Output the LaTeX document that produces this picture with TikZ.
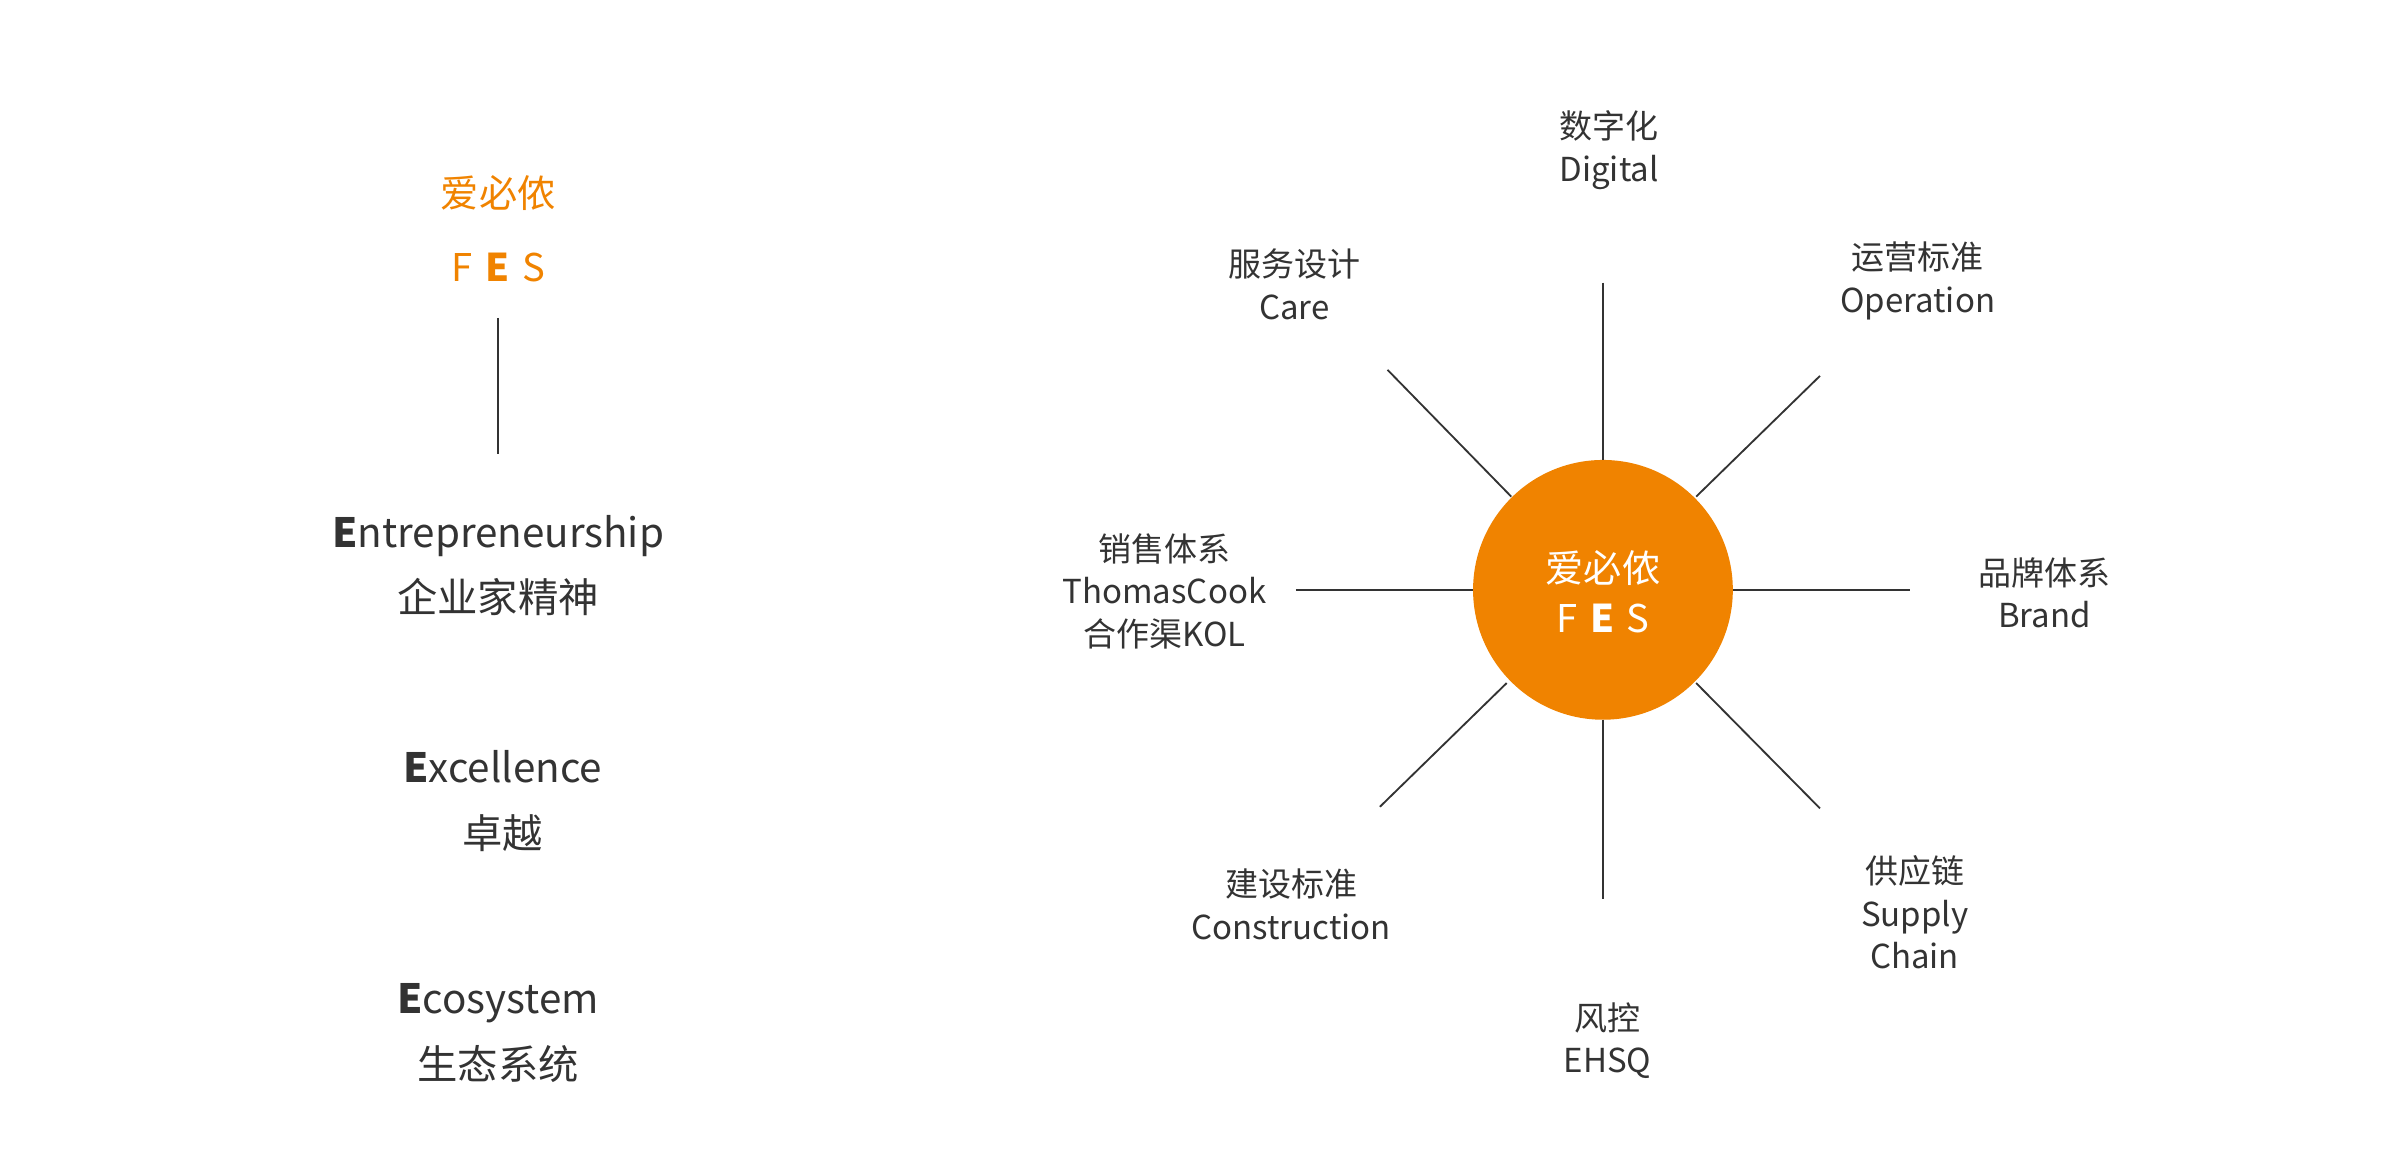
\documentclass[tikz,border=0pt]{standalone}
\usepackage{fontspec}
\setmainfont{Noto Sans CJK SC}
\definecolor{org}{HTML}{F08300}
\definecolor{txt}{HTML}{333333}
\begin{document}
\begin{tikzpicture}[x=0.5pt,y=-0.5pt,
  lbl/.style={align=center,text=txt,font=\fontsize{10.8}{14}\selectfont,inner sep=0},
  big/.style={align=center,text=txt,font=\fontsize{13.2}{21.5}\selectfont,inner sep=0},
  ray/.style={draw=txt,line width=0.6pt}]
\useasboundingbox (0,0) rectangle (1568,767);
% left column
\node[inner sep=0,text=org,font=\fontsize{12.5}{14}\selectfont] (t1) at (326,126) {爱必侬};
\node[inner sep=0,text=org,font=\fontsize{12.5}{14}\selectfont] (t2) at (326,175) {F\,\,\textbf{E}\,\,S};
\coordinate (l1) at (326,208); \coordinate (l2) at (326,297);
\draw[ray] (l1) -- (l2);
\node[big] (e1) at (326,370) {\textbf{E}ntrepreneurship\\企业家精神};
\node[big] (e2) at (329,524) {\textbf{E}xcellence\\卓越};
\node[big] (e3) at (326,676) {\textbf{E}cosystem\\生态系统};
% circle
\node[circle,fill=org,minimum size=85pt,inner sep=0] (c) at (1049,386) {};
\node[inner sep=0,text=white,font=\fontsize{12.5}{14}\selectfont] at (1049,372) {爱必侬};
\node[inner sep=0,text=white,font=\fontsize{12.5}{14}\selectfont] at (1049,405) {F\,\,\textbf{E}\,\,S};
% rays
\foreach \a/\b/\c/\d in {1049/185/1049/301, 1049/471/1049/588, 848/386/964/386, 1134/386/1250/386,
  1110/325/1191/246, 989/325/908/242, 986/447/903/528, 1110/447/1191/529}
  {\draw[ray] (\a,\b) -- (\c,\d);}
% labels
\node[lbl] (d1) at (1053,98) {数字化\\Digital};
\node[lbl] (d2) at (1255,184) {运营标准\\Operation};
\node[lbl] (d3) at (847,186) {服务设计\\Care};
\node[lbl] (d4) at (1338,388) {品牌体系\\Brand};
\node[lbl] (d5) at (762,387) {销售体系\\ThomasCook\\合作渠KOL};
\node[lbl] (d6) at (845,592) {建设标准\\Construction};
\node[lbl] (d7) at (1253,597) {供应链\\Supply\\Chain};
\node[lbl] (d8) at (1052,681) {风控\\EHSQ};
\end{tikzpicture}
\end{document}
